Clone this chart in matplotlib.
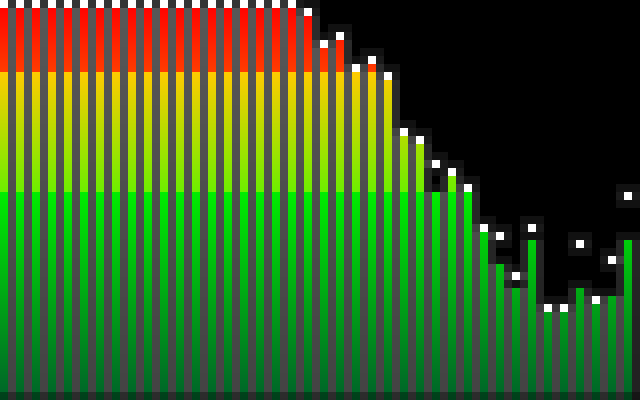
import numpy as np
import matplotlib
matplotlib.use("Agg")
import matplotlib.pyplot as plt

# Bar levels (number of lit cells from the bottom, out of 49) for 40 bands
levels = [49, 49, 49, 49, 49, 49, 49, 49, 49, 49,
          49, 49, 49, 49, 49, 49, 49, 49, 49, 48,
          44, 45, 41, 42, 40, 33, 32, 26, 28, 26,
          21, 17, 14, 20, 11, 11, 14, 12, 13, 20]
# Peak-hold positions (cell index from the bottom)
peaks = [49, 49, 49, 49, 49, 49, 49, 49, 49, 49,
         49, 49, 49, 49, 49, 49, 49, 49, 49, 48,
         44, 45, 41, 42, 40, 33, 32, 29, 28, 26,
         21, 20, 15, 21, 11, 11, 19, 12, 17, 25]

ROWS, CELL = 50, 8
NB = len(levels)
COLS = 2 * NB
H, W = ROWS * CELL, COLS * CELL


def lerp(c0, c1, t):
    return np.array(c0) + (np.array(c1) - np.array(c0)) * t


def bar_color(y):
    if y < 72:
        t = (y - 8) / 63.0
        return lerp((255, 5, 0), (255, 60, 0), t)
    if y < 192:
        t = (y - 72) / 119.0
        return lerp((255, 204, 0), (110, 238, 0), t)
    t = (y - 192) / 199.0
    return lerp((0, 238, 0), (0, 104, 40), t)


def gray(y):
    return 88 - 20 * (y - 8) / 384.0


# cell states in bar columns: 0 none, 1 bar, 2 peak
state = np.zeros((ROWS, NB), dtype=int)
for i in range(NB):
    top = ROWS - levels[i]
    state[top:, i] = 1
    pr = ROWS - 1 - peaks[i]
    if state[pr, i] == 0:
        state[pr, i] = 2

img = np.zeros((H, W, 3))
for r in range(ROWS):
    for c in range(COLS):
        for dy in range(CELL):
            y = r * CELL + dy
            x0 = c * CELL
            if c % 2 == 0:
                s = state[r, c // 2]
                if s == 1:
                    img[y, x0:x0 + CELL] = bar_color(y)
                elif s == 2:
                    img[y, x0:x0 + CELL] = 255
            else:
                v = 0.0
                for j in (c // 2, c // 2 + 1):
                    if j < NB:
                        s = state[r, j]
                        if s == 1:
                            v += gray(y) / 2
                        elif s == 2:
                            v += 26
                img[y, x0:x0 + CELL] = v

# glow halo around lit cells
lit = np.zeros((ROWS, COLS), dtype=bool)
for i in range(NB):
    lit[:, 2 * i] = state[:, i] > 0
glow = np.zeros_like(lit)
for dr in (-1, 0, 1):
    for dc in (-1, 0, 1):
        sh = np.zeros_like(lit)
        rs = slice(max(dr, 0), ROWS + min(dr, 0))
        rd = slice(max(-dr, 0), ROWS + min(-dr, 0))
        cs = slice(max(dc, 0), COLS + min(dc, 0))
        cd = slice(max(-dc, 0), COLS + min(-dc, 0))
        sh[rd, cd] = lit[rs, cs]
        glow |= sh
for r in range(ROWS):
    for c in range(COLS):
        if glow[r, c] and not lit[r, c]:
            blk = img[r * CELL:(r + 1) * CELL, c * CELL:(c + 1) * CELL]
            np.maximum(blk, 17, out=blk)

# darker bottom row
img[H - CELL:] *= 0.65

fig = plt.figure(figsize=(6.4, 4.0), dpi=100, facecolor="black")
ax = fig.add_axes([0, 0, 1, 1])
ax.imshow(np.clip(img, 0, 255).astype(np.uint8), interpolation="nearest",
          aspect="auto", extent=(0, W, H, 0))
ax.set_xlim(0, W)
ax.set_ylim(H, 0)
ax.axis("off")
fig.savefig("out.png", dpi=100, facecolor="black")
